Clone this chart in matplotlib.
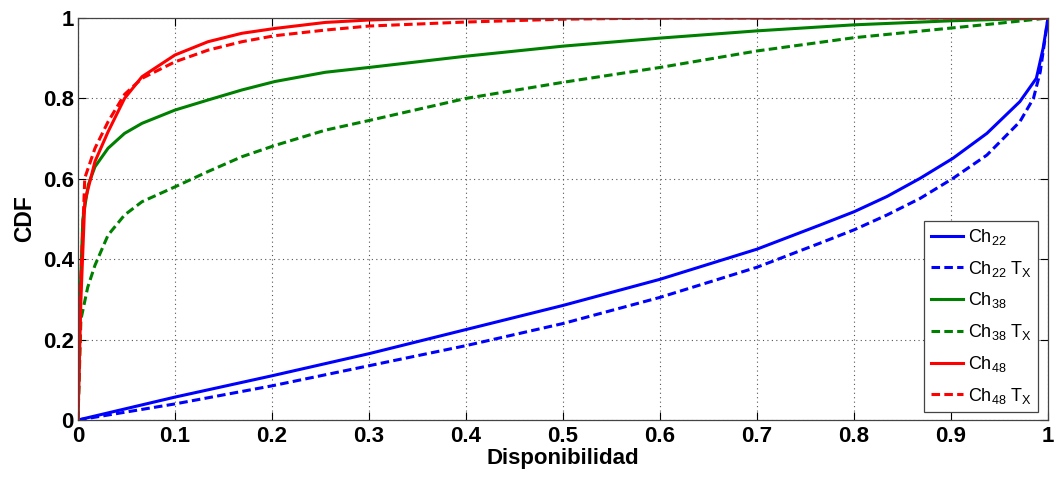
import matplotlib
matplotlib.use("Agg")
import matplotlib.pyplot as plt
import numpy as np

plt.rcParams['font.family'] = ['Liberation Sans', 'DejaVu Sans']
plt.rcParams['mathtext.fontset'] = 'custom'
plt.rcParams['mathtext.rm'] = 'Liberation Sans'
plt.rcParams['mathtext.it'] = 'Liberation Sans'

# Data
ch22_x = [0, 0.1, 0.2, 0.3, 0.4, 0.5, 0.6, 0.7, 0.765, 0.8, 0.834, 0.868, 0.902, 0.937, 0.971, 0.988, 0.995, 1.0]
ch22_y = [0, 0.057, 0.11, 0.165, 0.225, 0.285, 0.35, 0.425, 0.485, 0.518, 0.556, 0.601, 0.651, 0.713, 0.792, 0.85, 0.925, 1.0]

ch22tx_x = [0, 0.1, 0.2, 0.3, 0.4, 0.5, 0.6, 0.7, 0.765, 0.8, 0.834, 0.868, 0.902, 0.937, 0.971, 0.985, 0.992, 1.0]
ch22tx_y = [0, 0.04, 0.085, 0.135, 0.185, 0.24, 0.305, 0.38, 0.44, 0.473, 0.51, 0.551, 0.601, 0.659, 0.742, 0.80, 0.866, 1.0]

ch38_x = [0, 0.002, 0.005, 0.0106, 0.0175, 0.031, 0.048, 0.066, 0.1, 0.134, 0.169, 0.203, 0.255, 0.3, 0.4, 0.5, 0.6, 0.7, 0.8, 0.9, 1.0]
ch38_y = [0, 0.3, 0.5, 0.585, 0.63, 0.676, 0.713, 0.738, 0.771, 0.796, 0.821, 0.842, 0.865, 0.877, 0.905, 0.93, 0.95, 0.968, 0.983, 0.993, 1.0]

ch38tx_x = [0, 0.003, 0.01, 0.0175, 0.031, 0.048, 0.066, 0.1, 0.134, 0.169, 0.203, 0.255, 0.3, 0.4, 0.5, 0.6, 0.7, 0.8, 0.9, 0.95, 1.0]
ch38tx_y = [0, 0.25, 0.33, 0.385, 0.46, 0.51, 0.543, 0.58, 0.618, 0.655, 0.683, 0.721, 0.745, 0.80, 0.84, 0.877, 0.918, 0.951, 0.975, 0.987, 1.0]

ch48_x = [0, 0.003, 0.007, 0.0175, 0.031, 0.048, 0.066, 0.1, 0.134, 0.169, 0.203, 0.255, 0.3, 0.35, 0.4, 1.0]
ch48_y = [0, 0.3, 0.543, 0.643, 0.717, 0.80, 0.854, 0.908, 0.941, 0.962, 0.974, 0.989, 0.995, 0.999, 1.0, 1.0]

ch48tx_x = [0, 0.003, 0.007, 0.0175, 0.031, 0.048, 0.066, 0.1, 0.134, 0.169, 0.203, 0.255, 0.3, 0.4, 0.5, 0.6, 1.0]
ch48tx_y = [0, 0.35, 0.602, 0.676, 0.742, 0.81, 0.85, 0.891, 0.920, 0.941, 0.956, 0.970, 0.98, 0.99, 0.997, 1.0, 1.0]

fig = plt.figure(figsize=(10.57, 4.78), dpi=100)
ax = fig.add_axes([78/1057, 58/478, 970/1057, 402/478])

blue = (0, 0, 1)
green = (0, 0.5, 0)
red = (1, 0, 0)
lw = 2.2
dash = (0, (2.8, 1.4))
ax.plot(ch22_x, ch22_y, color=blue, lw=lw, label=r'Ch$_{22}$')
ax.plot(ch22tx_x, ch22tx_y, color=blue, lw=lw, ls=dash, label=r'Ch$_{22}$ T$_X$')
ax.plot(ch38_x, ch38_y, color=green, lw=lw, label=r'Ch$_{38}$')
ax.plot(ch38tx_x, ch38tx_y, color=green, lw=lw, ls=dash, label=r'Ch$_{38}$ T$_X$')
ax.plot(ch48_x, ch48_y, color=red, lw=lw, label=r'Ch$_{48}$')
ax.plot(ch48tx_x, ch48tx_y, color=red, lw=lw, ls=dash, label=r'Ch$_{48}$ T$_X$')

ax.set_xlim(0, 1)
ax.set_ylim(0, 1)
ax.set_xticks(np.arange(0, 1.01, 0.1))
ax.set_yticks(np.arange(0, 1.01, 0.2))
ax.set_xticklabels(['0', '0.1', '0.2', '0.3', '0.4', '0.5', '0.6', '0.7', '0.8', '0.9', '1'])
ax.set_yticklabels(['0', '0.2', '0.4', '0.6', '0.8', '1'])
ax.tick_params(direction='in', top=True, right=True, labelsize=16, length=6, width=0.8, pad=4)
ax.tick_params(axis='y', pad=3)
for lab in ax.get_xticklabels() + ax.get_yticklabels():
    lab.set_fontweight('bold')
ax.grid(True, ls=(0, (1, 3)), color='#555555', lw=0.8)
for s in ax.spines.values():
    s.set_color('#444444')
    s.set_linewidth(0.9)

ax.set_xlabel('Disponibilidad', fontsize=16, fontweight='bold', labelpad=1)
ax.set_ylabel('CDF', fontsize=16.5, fontweight='bold', labelpad=5)

leg = ax.legend(loc='lower right', bbox_to_anchor=(0.9897, 0.0199), fontsize=13, handlelength=1.8,
                handletextpad=0.25, labelspacing=0.65, borderpad=0.35, borderaxespad=0,
                fancybox=False, framealpha=1, edgecolor='#444444')
leg.get_frame().set_linewidth(0.9)

fig.savefig('out.png', dpi=100)
